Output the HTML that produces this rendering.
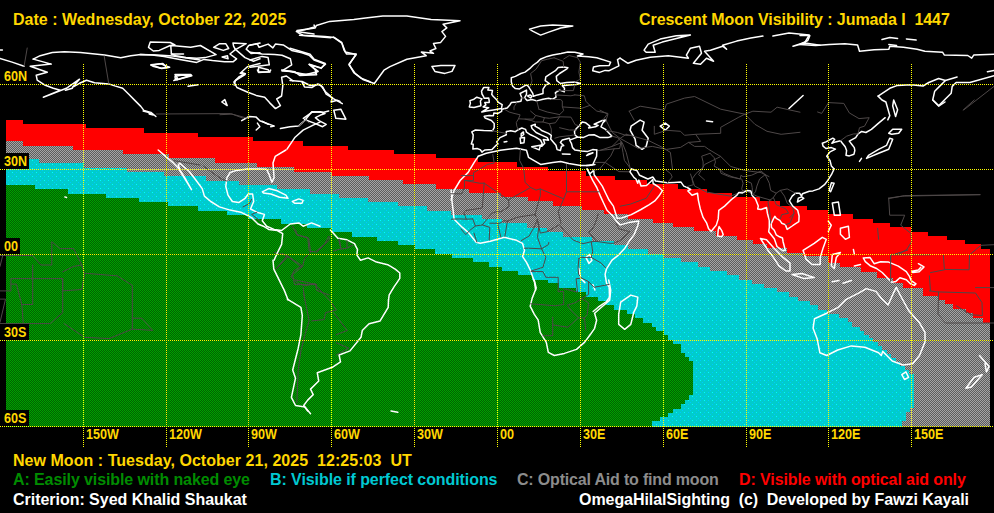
<!DOCTYPE html>
<html><head><meta charset="utf-8"><style>
html,body{margin:0;padding:0;background:#000;}
body{width:994px;height:513px;overflow:hidden;position:relative;font-family:"Liberation Sans",sans-serif;}
.t{position:absolute;font-weight:bold;font-size:16px;line-height:19px;white-space:pre;}
.lb{position:absolute;background:#000;}
.lb span{position:absolute;font-weight:bold;font-size:14px;line-height:15px;color:#ffd700;white-space:pre;transform:scaleX(0.9);transform-origin:0 0;}
.ll{position:absolute;font-weight:bold;font-size:14px;line-height:15px;color:#ffd700;white-space:pre;transform:scaleX(0.9);transform-origin:0 0;}
</style></head><body>
<svg width="994" height="513" viewBox="0 0 994 513" style="position:absolute;left:0;top:0" shape-rendering="crispEdges">
<defs>
<pattern id="pg" width="2" height="2" patternUnits="userSpaceOnUse"><rect width="2" height="2" fill="#5c5c5c"/><rect width="1" height="1" fill="#a4a4a4"/><rect x="1" y="1" width="1" height="1" fill="#a4a4a4"/></pattern>
<pattern id="pgr" width="2" height="2" patternUnits="userSpaceOnUse"><rect width="2" height="2" fill="#006400"/><rect width="1" height="1" fill="#00a000"/><rect x="1" y="1" width="1" height="1" fill="#00a000"/></pattern>
<pattern id="pc" width="8" height="8" patternUnits="userSpaceOnUse"><rect width="8" height="8" fill="#00cccc"/><rect x="0" y="0" width="1" height="1" fill="#00ffff"/><rect x="4" y="0" width="1" height="1" fill="#00c8ff"/><rect x="2" y="2" width="1" height="1" fill="#00c8ff"/><rect x="4" y="4" width="1" height="1" fill="#00ffff"/><rect x="0" y="4" width="1" height="1" fill="#00c8ff"/><rect x="6" y="6" width="1" height="1" fill="#00c8ff"/></pattern>
</defs>
<polygon points="6.0,120.0 23.0,120.0 23.0,124.0 86.0,124.0 86.0,128.0 144.0,128.0 144.0,133.0 198.0,133.0 198.0,137.0 253.0,137.0 253.0,141.0 303.0,141.0 303.0,146.0 348.0,146.0 348.0,150.0 394.0,150.0 394.0,154.0 436.0,154.0 436.0,158.0 478.0,158.0 478.0,162.3 516.5,162.3 516.5,166.7 548.0,166.7 548.0,170.5 586.0,170.5 586.0,176.0 615.0,176.0 615.0,180.0 647.0,180.0 647.0,184.0 678.0,184.0 678.0,189.0 707.0,189.0 707.0,193.0 732.0,193.0 732.0,197.0 760.4,197.0 760.4,201.0 780.0,201.0 780.0,205.5 807.2,205.5 807.2,209.8 828.0,209.8 828.0,214.0 852.7,214.0 852.7,218.7 873.0,218.7 873.0,222.7 889.5,222.7 889.5,227.0 911.3,227.0 911.3,231.8 928.3,231.8 928.3,236.0 947.0,236.0 947.0,240.0 965.0,240.0 965.0,244.0 981.0,244.0 981.0,248.5 990.0,248.5 990.0,426.5 6.0,426.5" fill="#ff0000"/>
<polygon points="6.0,141.0 23.0,141.0 23.0,146.0 73.0,146.0 73.0,150.0 123.0,150.0 123.0,154.0 169.0,154.0 169.0,158.0 215.0,158.0 215.0,163.0 257.0,163.0 257.0,167.2 294.0,167.2 294.0,171.5 331.6,171.5 331.6,176.0 368.8,176.0 368.8,179.8 403.0,179.8 403.0,183.8 436.0,183.8 436.0,188.5 469.0,188.5 469.0,193.0 500.7,193.0 500.7,197.4 528.0,197.4 528.0,201.3 553.4,201.3 553.4,205.8 581.6,205.8 581.6,210.0 604.0,210.0 604.0,214.0 627.8,214.0 627.8,218.9 653.0,218.9 653.0,223.0 673.0,223.0 673.0,227.3 694.4,227.3 694.4,231.4 715.5,231.4 715.5,235.8 736.5,235.8 736.5,239.7 753.2,239.7 753.2,243.5 767.0,243.5 767.0,248.0 786.6,248.0 786.6,252.5 803.2,252.5 803.2,256.4 828.1,256.4 828.1,262.6 840.4,262.6 840.4,267.0 860.6,267.0 860.6,272.2 877.2,272.2 877.2,277.5 893.0,277.5 893.0,283.4 902.7,283.4 902.7,288.0 922.9,288.0 922.9,296.0 938.8,296.0 938.8,299.8 944.5,299.8 944.5,303.6 953.3,303.6 953.3,308.7 966.0,308.7 966.0,312.5 973.0,312.5 973.0,317.6 982.5,317.6 982.5,322.6 990.0,322.6 990.0,426.5 6.0,426.5" fill="url(#pg)"/>
<polygon points="6.0,159.0 39.0,159.0 39.0,163.0 84.3,163.0 84.3,168.0 127.0,168.0 127.0,172.3 164.2,172.3 164.2,176.2 206.0,176.2 206.0,180.6 239.0,180.6 239.0,184.8 276.9,184.8 276.9,189.3 310.2,189.3 310.2,193.6 339.2,193.6 339.2,197.8 368.0,197.8 368.0,201.8 397.7,201.8 397.7,206.0 427.0,206.0 427.0,211.0 451.4,211.0 451.4,215.1 481.6,215.1 481.6,218.9 501.7,218.9 501.7,223.3 526.9,223.3 526.9,227.7 547.0,227.7 547.0,232.0 562.8,232.0 562.8,236.9 591.8,236.9 591.8,241.3 613.7,241.3 613.7,245.2 627.8,245.2 627.8,249.2 648.0,249.2 648.0,254.0 663.8,254.0 663.8,257.8 681.0,257.8 681.0,262.2 698.0,262.2 698.0,266.6 710.3,266.6 710.3,271.0 727.0,271.0 727.0,275.4 739.3,275.4 739.3,279.8 751.9,279.8 751.9,284.2 764.2,284.2 764.2,287.9 776.7,287.9 776.7,292.0 789.0,292.0 789.0,296.6 797.7,296.6 797.7,300.7 810.0,300.7 810.0,304.8 818.2,304.8 818.2,309.5 827.0,309.5 827.0,313.6 838.7,313.6 838.7,317.7 847.5,317.7 847.5,322.4 851.5,322.4 851.5,326.5 859.7,326.5 859.7,330.6 859.7,330.6 864.2,330.6 864.2,334.5 864.2,334.5 868.7,334.5 868.7,338.4 868.7,338.4 873.2,338.4 873.2,342.3 873.2,342.3 877.7,342.3 877.7,346.2 877.7,346.2 882.2,346.2 882.2,350.1 882.2,350.1 886.7,350.1 886.7,354.0 886.7,354.1 891.1,354.1 891.1,358.0 891.1,358.0 895.6,358.0 895.6,361.9 895.6,361.9 900.1,361.9 900.1,365.8 900.1,365.8 904.6,365.8 904.6,369.7 904.6,369.7 909.1,369.7 909.1,373.6 909.1,373.6 913.6,373.6 913.6,377.5 913.6,408.0 910.2,408.0 910.2,412.2 906.1,412.2 906.1,420.9 902.2,420.9 902.2,426.5 6.0,426.5" fill="url(#pc)"/>
<polygon points="6.0,185.0 35.1,185.0 35.1,189.0 68.1,189.0 68.1,194.0 106.2,194.0 106.2,198.0 139.0,198.0 139.0,202.0 167.8,202.0 167.8,206.0 197.7,206.0 197.7,210.7 227.3,210.7 227.3,214.8 248.0,214.8 248.0,218.9 281.3,218.9 281.3,223.7 306.5,223.7 306.5,228.0 331.6,228.0 331.6,232.1 352.4,232.1 352.4,237.1 376.9,237.1 376.9,241.0 397.9,241.0 397.9,244.9 414.6,244.9 414.6,248.9 435.1,248.9 435.1,253.9 452.4,253.9 452.4,257.9 473.1,257.9 473.1,262.1 489.1,262.1 489.1,267.0 502.0,267.0 502.0,270.8 517.7,270.8 517.7,274.9 532.2,274.9 532.2,280.0 547.9,280.0 547.9,283.4 559.2,283.4 559.2,287.8 576.2,287.8 576.2,292.2 585.6,292.2 585.6,296.6 597.5,296.6 597.5,301.1 606.3,301.1 606.3,305.1 613.9,305.1 613.9,309.5 627.1,309.5 627.1,313.7 634.6,313.7 634.6,318.0 642.8,318.0 642.8,322.7 651.6,322.7 651.6,326.5 656.0,326.5 656.0,330.9 664.2,330.9 664.2,335.0 668.0,335.0 668.0,339.7 673.0,339.7 673.0,343.9 681.1,343.9 681.1,352.6 685.0,352.6 685.0,356.9 689.1,356.9 689.1,360.9 693.1,360.9 693.1,395.2 689.1,395.2 689.1,399.8 685.0,399.8 685.0,403.9 681.1,403.9 681.1,409.0 673.0,409.0 673.0,412.8 667.8,412.8 667.8,416.9 660.0,416.9 660.0,421.1 652.0,421.1 652.0,426.5 6.0,426.5" fill="url(#pgr)"/>
</svg>
<svg width="994" height="513" viewBox="0 0 994 513" style="position:absolute;left:0;top:0" fill="none" stroke-linejoin="round" stroke-linecap="round"><polyline points="0.0,58.5 12.1,62.1 24.1,66.2" stroke="#ffffff" stroke-width="1.5"/>
<polyline points="0.0,50.1 2.4,50.1" stroke="#ffffff" stroke-width="1.5"/>
<polyline points="27.2,48.0 24.1,66.2" stroke="#4e4848" stroke-width="1"/>
<polyline points="33.2,59.1 40.2,55.7 52.3,52.5 64.4,51.7 80.5,52.5 104.6,55.1 120.7,57.7 130.8,55.7 140.8,54.5 156.9,55.1 173.0,56.1 185.1,57.7 200.0,60.1" stroke="#ffffff" stroke-width="1.5"/>
<polyline points="33.2,59.1 51.3,64.1 30.2,66.2 47.3,72.2 36.2,75.2 37.2,80.2 45.3,85.3 53.3,88.3 60.4,90.3 43.3,97.3 66.4,88.3 79.5,79.2 72.4,87.3 79.5,83.3 86.5,80.2 94.6,82.7 108.7,83.9 114.7,85.9 122.7,88.3 128.8,94.3 134.8,100.4 140.8,106.4 143.9,110.4 150.9,112.4 155.9,116.5" stroke="#ffffff" stroke-width="1.5"/>
<polyline points="65.4,90.3 72.4,88.3" stroke="#ffffff" stroke-width="1.5"/>
<polyline points="104.2,56.1 108.7,83.3" stroke="#4e4848" stroke-width="1"/>
<polygon points="150.9,65.2 161.0,63.7 169.0,67.2 161.0,68.2 152.9,66.2" stroke="#ffffff" stroke-width="1.5"/>
<polygon points="175.1,76.2 181.1,75.2 191.1,75.2 177.1,79.8 175.1,78.2" stroke="#ffffff" stroke-width="1.5"/>
<polyline points="188.1,86.3 198.2,84.7" stroke="#ffffff" stroke-width="1.5"/>
<polygon points="431.9,66.4 440.9,65.4 455.0,65.4 452.0,71.4 444.9,73.4 434.9,71.4" stroke="#ffffff" stroke-width="1.5"/>
<polyline points="290.0,48.3 300.1,51.3 310.1,54.3 314.1,59.3 325.2,63.4 321.2,68.4 309.1,64.4 318.2,71.4 306.1,74.4 290.0,71.4" stroke="#ffffff" stroke-width="1.5"/>
<polyline points="290.0,80.5 302.1,81.5 310.1,85.5 320.2,84.5 325.2,91.5 333.3,98.6 342.3,103.6" stroke="#ffffff" stroke-width="1.5"/>
<polygon points="333.8,110.2 340.8,109.2 345.9,119.2 335.8,118.2" stroke="#ffffff" stroke-width="1.5"/>
<polygon points="529.5,29.1 540.6,26.0 552.7,25.0 572.8,26.0 560.7,28.0 548.7,32.1 540.6,35.1 532.6,31.1" stroke="#ffffff" stroke-width="1.5"/>
<polygon points="644.1,50.2 648.2,44.1 660.2,39.1 676.3,35.7 690.4,35.1 678.4,38.1 662.3,42.1 653.2,45.2 655.2,52.2 646.2,52.2" stroke="#ffffff" stroke-width="1.5"/>
<polyline points="620.0,58.2 628.0,63.3 636.1,60.2 650.2,57.2 668.3,55.8 680.4,57.2 688.4,58.2 686.4,55.2 690.4,48.2 699.5,46.2 701.5,53.2 693.4,63.3 700.5,64.3 706.5,58.2 713.6,61.2 704.5,51.2 710.5,50.2 722.6,46.2 726.6,49.2 722.6,45.2 736.7,41.1 750.8,38.1 762.9,36.1" stroke="#ffffff" stroke-width="1.5"/>
<polyline points="772.9,36.1 789.0,33.1 809.1,35.1 805.1,42.1 793.0,46.2 805.1,43.1 820.0,45.2" stroke="#ffffff" stroke-width="1.5"/>
<polyline points="789.0,108.5 803.1,95.5" stroke="#ffffff" stroke-width="1.5"/>
<polyline points="800.0,44.4 815.6,45.4 829.3,44.4 844.9,43.8 857.6,45.0 859.5,51.2 874.2,49.7 888.8,49.3 889.8,46.3 903.4,47.3 917.1,49.3 924.9,51.2 942.5,52.2 944.4,55.1 967.8,55.5 971.7,58.1 973.7,55.1 994.0,54.2" stroke="#ffffff" stroke-width="1.5"/>
<polyline points="800.0,35.6 809.8,35.6 807.8,40.5 800.0,44.4" stroke="#ffffff" stroke-width="1.5"/>
<polyline points="882.0,39.5 889.8,37.6 897.6,38.5" stroke="#ffffff" stroke-width="1.5"/>
<polyline points="906.4,38.9 916.1,40.1" stroke="#ffffff" stroke-width="1.5"/>
<polyline points="888.8,44.4 896.6,45.4" stroke="#ffffff" stroke-width="1.5"/>
<polyline points="878.1,96.1 889.8,88.3 897.6,85.4 911.2,84.8 923.0,86.0 928.8,82.5 938.6,78.5 945.4,80.5 957.1,77.0" stroke="#ffffff" stroke-width="1.5"/>
<polyline points="945.4,80.5 940.5,85.4 934.7,91.2 932.7,100.0 938.6,105.9 945.4,99.0 951.2,93.2 952.2,86.4 956.1,82.5 969.8,82.5 994.0,75.6" stroke="#ffffff" stroke-width="1.5"/>
<polyline points="878.1,96.1 882.0,100.0 885.9,102.0 889.8,115.6 887.8,119.9" stroke="#ffffff" stroke-width="1.5"/>
<polygon points="893.7,100.0 897.6,109.8 895.6,116.6 892.7,105.9" stroke="#ffffff" stroke-width="1.5"/>
<polyline points="963.9,109.8 994.0,86.4" stroke="#4e4848" stroke-width="1"/>
<polyline points="987.4,71.7 994.0,70.4" stroke="#ffffff" stroke-width="1.5"/>
<polyline points="143.1,111.0 148.2,112.4 153.2,115.0 149.2,114.0" stroke="#ffffff" stroke-width="1.5"/>
<polyline points="287.0,149.2 295.1,137.2 303.1,130.1 313.2,125.1 320.0,122.1" stroke="#ffffff" stroke-width="1.5"/>
<polyline points="156.2,114.0 230.7,113.6 242.7,118.0" stroke="#4e4848" stroke-width="1"/>
<polyline points="292.6,226.2 296.6,234.3 308.7,238.3 310.7,252.4 304.6,258.4 302.6,266.5 292.6,274.5 294.6,284.6 316.7,284.6" stroke="#4e4848" stroke-width="1"/>
<polyline points="328.8,236.3 324.7,244.3 316.7,252.4" stroke="#4e4848" stroke-width="1"/>
<polyline points="338.8,240.3 340.8,248.4" stroke="#4e4848" stroke-width="1"/>
<polyline points="274.4,252.4 286.5,255.4 300.6,266.5" stroke="#4e4848" stroke-width="1"/>
<polyline points="276.5,268.5 286.5,256.4" stroke="#4e4848" stroke-width="1"/>
<polyline points="287.3,299.1 300.9,307.3 302.3,315.5 300.9,334.6 298.2,348.2 292.7,370.0 295.5,378.2 291.4,397.3 295.5,405.5 305.0,406.9 310.5,413.7" stroke="#ffffff" stroke-width="1.5"/>
<polyline points="388.5,299.9 388.2,307.3 380.1,320.9 369.1,323.7 362.3,330.5 361.0,337.3 350.0,350.9 339.1,355.0 340.5,361.9 332.3,367.3 317.3,372.8 318.7,381.0 310.5,389.1 313.2,394.6 307.7,400.1 303.7,405.5 307.7,411.0" stroke="#ffffff" stroke-width="1.5"/>
<polyline points="303.7,293.6 309.1,320.9 305.0,334.6 300.9,350.9 298.2,370.0 296.8,402.8" stroke="#4e4848" stroke-width="1"/>
<polyline points="295.5,280.0 314.6,284.1 330.9,301.8 336.4,310.0 325.5,312.7 324.1,319.6 311.8,320.9" stroke="#4e4848" stroke-width="1"/>
<polyline points="333.7,312.7 347.3,330.5 336.4,334.6" stroke="#4e4848" stroke-width="1"/>
<polyline points="336.4,342.8 348.7,348.2 336.4,355.0" stroke="#4e4848" stroke-width="1"/>
<polyline points="391.0,411.0 397.8,412.3" stroke="#ffffff" stroke-width="1.5"/>
<polyline points="273.0,260.2 273.8,269.2 279.1,279.8 284.3,290.4 288.1,300.0" stroke="#ffffff" stroke-width="1.5"/>
<polyline points="330.4,230.0 337.9,238.3 347.0,239.8 354.5,243.6 357.5,249.6 356.8,254.9 360.5,260.2 368.1,257.9 375.6,261.7 387.7,264.7 395.2,269.2 399.8,273.0 399.8,278.3 393.7,287.3 389.2,294.9 388.5,300.0" stroke="#ffffff" stroke-width="1.5"/>
<polyline points="295.7,230.0 297.2,235.3 307.7,237.5 309.2,251.1 315.3,251.9 328.9,240.6 330.4,236.0" stroke="#4e4848" stroke-width="1"/>
<polyline points="333.4,251.1 337.9,249.6 347.0,248.1 353.0,245.1" stroke="#4e4848" stroke-width="1"/>
<polyline points="339.4,239.1 340.9,248.1" stroke="#4e4848" stroke-width="1"/>
<polyline points="347.0,240.6 347.0,247.4" stroke="#4e4848" stroke-width="1"/>
<polyline points="282.1,253.4 288.1,256.4 301.7,265.5" stroke="#4e4848" stroke-width="1"/>
<polyline points="288.1,256.4 276.0,269.2" stroke="#4e4848" stroke-width="1"/>
<polyline points="301.7,266.2 294.1,270.7 291.1,276.8 297.2,282.8 304.7,285.8 315.3,283.6 316.8,290.4 328.9,294.9" stroke="#4e4848" stroke-width="1"/>
<polyline points="303.2,287.3 304.7,300.0" stroke="#4e4848" stroke-width="1"/>
<polyline points="478.2,156.3 486.3,153.3 500.4,150.3 516.5,148.3 526.5,150.3 528.5,157.3 540.6,164.4 552.7,162.4 560.7,161.4 568.8,163.4 580.8,165.4 588.9,165.4 594.9,164.4" stroke="#ffffff" stroke-width="1.5"/>
<polyline points="478.2,156.3 474.2,162.4 468.2,172.4 460.1,180.5 454.1,190.5 451.1,200.0" stroke="#ffffff" stroke-width="1.5"/>
<polyline points="451.1,190.0 452.1,202.1 453.1,210.1 454.1,219.2 462.1,227.2 468.2,232.3 476.2,242.3 480.2,243.3 490.3,241.3 504.4,237.3 516.5,240.3 522.5,243.3 524.5,250.4 522.5,256.4 526.5,262.4 530.5,270.5 534.6,282.6 535.6,290.0" stroke="#ffffff" stroke-width="1.5"/>
<polygon points="585.9,257.4 589.9,254.4 591.9,260.4 588.9,263.4" stroke="#ffffff" stroke-width="1.5"/>
<polyline points="578.8,268.5 580.8,278.5 584.9,282.6" stroke="#ffffff" stroke-width="1.5"/>
<polyline points="592.9,284.6 594.9,290.0" stroke="#ffffff" stroke-width="1.5"/>
<polyline points="534.2,280.0 536.2,288.0 532.2,298.1 530.2,306.2 534.2,314.2 538.2,320.2 540.2,332.3 546.3,342.4 548.3,352.4 554.3,355.5 564.4,353.4 576.5,349.4 584.5,342.4 590.5,334.3 594.6,328.3 596.6,320.2 594.6,313.2 602.6,306.2 609.7,300.1 610.7,290.1 608.7,280.0" stroke="#ffffff" stroke-width="1.5"/>
<polygon points="620.7,302.1 630.8,295.1 637.8,297.1 636.8,306.2 633.8,312.2 630.8,324.3 624.7,329.3 618.7,324.3 618.7,314.2" stroke="#ffffff" stroke-width="1.5"/>
<polygon points="631.1,126.2 640.1,120.1 644.1,122.1 642.1,130.2 648.2,138.2 646.2,146.3 642.1,149.3 636.1,145.3 635.1,139.2 630.1,130.2" stroke="#ffffff" stroke-width="1.5"/>
<polygon points="660.2,126.2 665.3,123.1 669.3,126.2 665.3,130.2" stroke="#ffffff" stroke-width="1.5"/>
<polyline points="706.5,121.1 712.6,121.7" stroke="#ffffff" stroke-width="1.5"/>
<polyline points="690.5,174.0 694.6,186.1 706.6,192.1 730.8,196.2 744.9,190.1 756.9,196.2 771.0,200.2" stroke="#4e4848" stroke-width="1"/>
<polyline points="620.1,206.2 630.2,204.2 646.3,198.2 654.3,186.1" stroke="#4e4848" stroke-width="1"/>
<polygon points="866.5,158.4 878.6,153.3 888.7,149.3 892.7,139.2 889.7,138.2 886.6,145.3 878.6,149.3 868.5,155.3" stroke="#ffffff" stroke-width="1.5"/>
<polygon points="888.7,133.2 892.7,129.2 901.7,129.2 898.7,133.2 891.7,134.2" stroke="#ffffff" stroke-width="1.5"/>
<polyline points="859.5,161.4 861.5,158.4" stroke="#ffffff" stroke-width="1.5"/>
<polyline points="932.9,100.0 939.0,106.0 945.0,102.0" stroke="#ffffff" stroke-width="1.5"/>
<polyline points="963.1,110.1 974.2,100.0" stroke="#4e4848" stroke-width="1"/>
<polyline points="888.7,198.6 904.7,195.6 980.0,194.6" stroke="#4e4848" stroke-width="1"/>
<polygon points="803.1,250.4 814.2,243.4 822.3,237.3 826.3,239.3 823.3,247.4 820.2,257.4 820.2,264.5 812.2,264.5 806.2,259.4" stroke="#ffffff" stroke-width="1.5"/>
<polygon points="792.1,274.5 802.1,273.5 814.2,277.6 804.1,278.6" stroke="#ffffff" stroke-width="1.5"/>
<polygon points="832.3,203.1 838.4,202.1 840.4,215.2 834.3,215.2" stroke="#ffffff" stroke-width="1.5"/>
<polygon points="840.4,228.3 848.4,226.2 849.4,237.3 845.4,239.3 840.4,234.3" stroke="#ffffff" stroke-width="1.5"/>
<polyline points="828.3,221.2 831.3,225.2 828.3,231.3" stroke="#ffffff" stroke-width="1.5"/>
<polygon points="832.3,254.4 840.4,252.4 836.3,257.4 834.3,268.5 831.3,265.5" stroke="#ffffff" stroke-width="1.5"/>
<polyline points="853.4,249.4 854.4,254.4" stroke="#ffffff" stroke-width="1.5"/>
<polyline points="888.7,198.1 902.7,196.1 980.0,194.7" stroke="#4e4848" stroke-width="1"/>
<polyline points="888.7,198.1 889.7,215.2 904.7,215.2 900.7,225.2 910.8,233.3 911.8,241.3 906.8,249.4 898.7,254.4 890.7,254.4 890.7,269.5" stroke="#4e4848" stroke-width="1"/>
<polyline points="877.6,228.3 878.6,239.3" stroke="#4e4848" stroke-width="1"/>
<polygon points="814.5,318.7 826.7,313.2 837.7,307.7 845.8,299.6 859.5,292.7 866.3,288.6 875.9,291.4 881.3,298.2 888.1,305.0 893.6,292.7 896.3,287.3 900.4,295.5 908.6,310.5 919.5,322.8 925.0,332.3 925.0,341.9 919.5,355.5 912.7,363.7 903.1,365.0 892.2,361.0 886.8,355.5 882.7,351.4 881.3,355.5 878.6,352.8 864.9,347.3 851.3,345.9 837.7,350.0 826.7,355.5 819.9,352.8 817.2,339.1 813.1,328.2" stroke="#ffffff" stroke-width="1.5"/>
<polygon points="901.8,374.6 905.9,371.9 908.6,377.3 904.5,379.5" stroke="#ffffff" stroke-width="1.5"/>
<polyline points="979.5,355.5 989.1,366.4 986.4,371.9 985.0,363.7" stroke="#ffffff" stroke-width="1.5"/>
<polygon points="965.9,388.2 974.1,377.3 982.3,374.6 971.4,386.9" stroke="#ffffff" stroke-width="1.5"/>
<polyline points="832.2,281.8 839.0,280.5" stroke="#ffffff" stroke-width="1.5"/>
<polyline points="843.1,283.2 851.3,280.5" stroke="#ffffff" stroke-width="1.5"/>
<polyline points="587.2,169.0 589.9,174.7 592.7,180.4 596.8,187.5 600.4,196.1 603.7,203.2 607.0,210.3 612.0,215.2 616.7,221.4 620.3,224.9 628.6,222.6 638.8,220.9 637.7,226.0 634.1,234.6 629.9,240.2 624.4,248.8 617.5,255.9 612.0,260.2 606.5,268.8 605.1,274.4 606.5,283.0 609.2,287.3 609.5,297.2 606.5,301.5 598.2,307.2 593.2,311.5" stroke="#ffffff" stroke-width="1.5"/>
<polyline points="586.6,165.6 592.7,164.7 596.6,156.2 596.8,149.9" stroke="#ffffff" stroke-width="1.5"/>
<polyline points="587.2,169.0 589.9,173.8 593.8,170.4 594.1,174.7 598.2,180.4 602.3,186.1 605.7,193.2 609.2,200.3 613.4,206.1 615.6,213.2 617.2,218.3 621.7,218.0 631.3,214.6 641.0,209.5 649.3,204.6 654.8,200.9 658.9,196.1 662.5,190.7 658.9,187.2 653.1,183.5 652.8,179.5 650.6,181.8 646.5,185.5 641.0,186.1 639.9,182.7 638.8,180.1 637.7,183.2 636.0,179.0 634.1,177.6 629.9,171.8 631.3,169.0" stroke="#ffffff" stroke-width="1.5"/>
<polyline points="631.3,169.0 636.8,170.4 639.6,175.3 647.9,179.0 652.8,177.0 655.6,181.0 667.2,182.7 674.1,182.4 681.0,182.1 683.8,186.1 687.3,187.5 690.6,189.5 687.9,190.9 692.0,195.2 697.5,193.2 698.4,200.3 700.3,208.9 703.1,217.4 706.7,223.2 708.6,228.8 711.3,231.4 713.3,228.8 716.3,225.1 718.2,218.9 718.8,210.3 724.6,206.1 731.5,199.5 737.0,195.2 738.9,192.4 742.5,192.9 747.2,190.4 750.8,190.9 752.2,195.5 755.5,198.9 758.3,206.1 757.7,208.9 761.0,209.5 766.5,207.5 767.4,213.2 769.3,220.3 769.3,227.4 768.7,231.7 774.3,238.8 777.0,246.5 783.1,250.8 785.3,250.2 783.1,241.7 782.5,238.0 779.5,236.8 776.2,234.8 774.3,230.3 771.5,227.4 771.2,223.7 773.4,218.9 774.8,216.3 776.2,218.3 779.8,220.3 781.7,223.2 785.3,224.6 787.2,229.4 792.2,226.0 794.1,224.6 798.8,221.7 799.1,216.0 797.7,210.3 792.7,206.1 789.4,200.9 792.2,196.1 795.5,193.2 799.6,193.2 801.6,196.1 802.4,193.8 809.3,191.2 812.9,190.9 819.0,188.9 824.5,184.7 827.8,180.4 831.4,174.7 834.1,169.0" stroke="#ffffff" stroke-width="1.5"/>
<polygon points="717.7,236.0 718.2,230.3 719.1,226.6 721.6,230.3 723.2,234.6 721.6,236.8" stroke="#ffffff" stroke-width="1.5"/>
<polygon points="760.5,238.5 766.5,239.7 773.4,247.4 783.1,257.4 790.0,263.1 790.0,271.0 785.8,271.0 779.0,265.9 773.4,257.4 767.9,250.2 760.5,238.5" stroke="#ffffff" stroke-width="1.5"/>
<polyline points="482.0,151.9 480.1,149.6 477.1,148.5 472.9,149.1 473.2,144.2 471.3,143.9 472.9,139.1 473.2,134.8 471.8,131.9 475.4,130.0 483.7,130.5 492.5,130.8 494.2,127.7 494.2,123.4 491.4,120.5 485.1,118.0 484.2,116.3 489.2,115.4 493.4,115.7 493.9,112.9 498.0,113.4 501.6,111.4 501.9,109.2 507.1,108.0 509.9,104.9 511.3,102.6 516.8,102.0 520.9,101.2 521.8,97.8 520.1,93.5 526.5,90.1 526.5,94.3 524.5,97.8 527.3,100.6 532.0,99.5 536.7,100.9 543.0,99.2 548.5,98.3 552.7,99.2 556.0,97.2 555.4,92.6 559.6,90.1 564.3,91.8 564.5,88.3 562.3,85.8 569.2,84.9 576.1,84.4 580.3,83.5 576.1,82.1 566.5,82.6 560.4,83.5 556.8,80.7 556.3,76.4 559.6,73.5 566.5,69.2 567.9,67.8 563.7,67.0 558.2,67.5 555.4,70.7 549.9,74.1 545.8,76.9 545.2,80.7 549.4,83.5 545.8,84.9 543.0,89.2 543.0,93.5 537.5,94.9 533.4,96.3 532.8,93.5 530.1,89.2 528.4,86.3 526.5,84.9 523.7,86.3 519.6,88.9 515.4,88.6 512.7,86.3 511.3,82.1 511.3,77.8 515.4,76.4 520.9,73.5 525.1,72.1 530.6,67.8 533.4,65.0 537.5,62.1 540.3,59.3 547.2,56.4 552.7,55.0 561.0,53.6 567.9,51.9 574.8,52.2 583.0,54.1 577.5,55.9 588.6,56.7 596.8,57.8 610.6,62.1 609.2,65.5 599.6,65.8 593.5,67.0 592.7,70.7 599.6,72.4 605.1,70.4 609.2,70.7 618.9,65.8 617.5,59.6 620.0,58.1" stroke="#ffffff" stroke-width="1.5"/>
<polygon points="532.0,96.3 530.1,94.9 527.6,96.0 530.6,98.0" stroke="#ffffff" stroke-width="1.5"/>
<polyline points="482.0,151.9 485.1,149.9 492.0,149.6 496.1,145.3 498.0,143.9 496.7,141.9 500.0,137.6 506.3,134.8 506.3,131.4 510.7,130.8 515.4,131.7 518.2,129.7 521.8,128.0 525.6,129.4 526.5,132.2 530.6,134.8 535.6,137.1 540.5,140.2 542.2,143.6 540.8,146.2 541.9,146.2 544.7,143.3 543.3,139.6 548.5,140.2 547.2,137.6 541.6,135.1 536.1,132.5 532.0,128.5 531.2,125.7 535.3,124.3 535.0,126.2 539.4,128.5 541.6,130.5 548.5,133.4 551.3,135.4 550.7,139.1 553.2,141.9 556.0,145.3 557.1,149.6 560.4,150.5 561.5,146.2 563.7,145.6 560.4,142.5 562.3,139.9 569.2,138.2 570.3,139.9 577.5,137.1" stroke="#ffffff" stroke-width="1.5"/>
<polyline points="569.8,140.5 571.4,143.3 572.5,147.6 574.8,149.9 581.7,151.0 587.2,151.6 592.7,149.6 596.8,149.9" stroke="#ffffff" stroke-width="1.5"/>
<polyline points="577.5,137.1 574.8,134.8 574.5,131.4 576.4,128.5 579.2,125.7 582.2,122.0 585.8,122.8 589.9,126.2 588.6,128.0 595.5,126.8 598.2,125.4 594.1,124.3 602.3,120.5 605.9,120.0 602.9,122.8 601.0,126.8 605.1,129.1 612.0,136.2 607.9,137.6 599.6,137.4 594.1,134.8 588.6,135.1 583.6,137.4 577.5,137.1" stroke="#ffffff" stroke-width="1.5"/>
<polygon points="531.7,146.8 540.5,145.3 539.2,149.9" stroke="#ffffff" stroke-width="1.5"/>
<polygon points="520.7,143.3 524.0,142.8 524.5,137.6 520.1,137.9" stroke="#ffffff" stroke-width="1.5"/>
<polygon points="521.2,136.5 523.7,134.5 523.4,131.9 521.2,133.7" stroke="#ffffff" stroke-width="1.5"/>
<polyline points="562.3,153.9 570.1,154.2" stroke="#ffffff" stroke-width="1.5"/>
<polygon points="586.6,155.6 593.0,152.8 588.6,153.9" stroke="#ffffff" stroke-width="1.5"/>
<polyline points="504.1,141.9 506.9,141.4" stroke="#ffffff" stroke-width="1.5"/>
<polygon points="481.8,112.0 486.5,111.1 493.4,110.0 501.4,108.6 502.2,104.6 498.3,102.3 496.9,100.0 493.1,96.3 491.7,94.3 492.5,90.6 487.8,90.1 488.9,87.5 483.7,87.5 481.5,91.2 482.0,94.0 483.7,96.9 484.2,98.3 488.7,98.0 489.2,100.9 489.2,102.6 484.8,102.6 485.9,104.9 483.1,106.9 488.7,107.7" stroke="#ffffff" stroke-width="1.5"/>
<polygon points="480.9,105.7 480.4,100.9 482.0,98.9 476.8,97.2 474.0,99.2 469.9,100.6 470.4,103.4 469.3,106.9 474.0,107.4" stroke="#ffffff" stroke-width="1.5"/>
<polyline points="492.5,130.8 506.3,133.4" stroke="#4e4848" stroke-width="1"/>
<polyline points="504.4,109.2 509.1,112.0 514.0,113.4 520.1,114.8 518.5,118.8 516.3,122.5 516.8,126.2 518.2,129.7" stroke="#4e4848" stroke-width="1"/>
<polyline points="536.7,100.9 537.8,104.9 538.9,109.2" stroke="#4e4848" stroke-width="1"/>
<polyline points="530.6,111.1 535.6,115.4 533.4,119.1 525.1,119.1 518.5,118.8" stroke="#4e4848" stroke-width="1"/>
<polyline points="521.5,98.0 524.8,98.3" stroke="#4e4848" stroke-width="1"/>
<polyline points="516.8,102.6 514.0,106.9 514.0,109.7" stroke="#4e4848" stroke-width="1"/>
<polyline points="538.9,109.2 547.2,112.0 559.6,114.6" stroke="#4e4848" stroke-width="1"/>
<polyline points="559.6,114.6 563.7,110.6 562.3,106.3 562.3,100.9 560.4,99.5 551.3,99.5" stroke="#4e4848" stroke-width="1"/>
<polyline points="535.6,115.4 544.4,117.7 543.0,122.0 535.3,122.0 531.2,120.5 525.1,119.1" stroke="#4e4848" stroke-width="1"/>
<polyline points="544.4,117.7 549.4,118.3 559.6,116.8 555.4,122.8 549.4,123.7 543.0,122.0" stroke="#4e4848" stroke-width="1"/>
<polyline points="559.6,116.8 570.9,117.1 575.3,124.8 579.2,125.7" stroke="#4e4848" stroke-width="1"/>
<polyline points="559.6,127.7 569.2,130.0 576.4,130.0" stroke="#4e4848" stroke-width="1"/>
<polyline points="549.4,123.7 551.3,129.1 551.3,133.4" stroke="#4e4848" stroke-width="1"/>
<polyline points="554.9,138.2 559.6,136.8 569.2,135.7 574.8,134.8" stroke="#4e4848" stroke-width="1"/>
<polyline points="589.9,105.4 596.8,111.1 607.9,113.4 602.9,120.0" stroke="#4e4848" stroke-width="1"/>
<polyline points="574.8,94.9 584.4,95.8 585.8,101.2 589.9,105.4" stroke="#4e4848" stroke-width="1"/>
<polyline points="562.3,106.9 581.7,108.3 589.9,105.4" stroke="#4e4848" stroke-width="1"/>
<polyline points="555.4,94.9 570.9,95.8 574.8,94.9" stroke="#4e4848" stroke-width="1"/>
<polyline points="556.8,90.6 573.4,90.6 574.8,84.9" stroke="#4e4848" stroke-width="1"/>
<polyline points="574.8,82.1 580.3,79.2 578.9,72.1 580.3,62.1 577.5,57.6" stroke="#4e4848" stroke-width="1"/>
<polyline points="530.6,86.3 532.0,80.7 530.6,73.5 536.1,69.2 541.6,60.7 547.2,59.3 554.1,57.8" stroke="#4e4848" stroke-width="1"/>
<polyline points="563.7,67.0 563.2,61.3 554.1,57.8" stroke="#4e4848" stroke-width="1"/>
<polyline points="563.7,59.0 569.2,55.6 577.5,57.6" stroke="#4e4848" stroke-width="1"/>
<polyline points="612.0,136.2 617.5,137.6 621.1,141.4 619.7,148.5 614.2,148.8 607.9,149.6 598.2,150.5" stroke="#4e4848" stroke-width="1"/>
<polyline points="614.2,148.8 610.6,156.2 605.1,162.4 595.5,162.4" stroke="#4e4848" stroke-width="1"/>
<polyline points="594.1,170.4 599.6,169.0 605.1,162.4 618.9,171.6 628.6,171.8" stroke="#4e4848" stroke-width="1"/>
<polyline points="621.1,141.4 623.0,152.5 624.4,160.4 629.9,167.6" stroke="#4e4848" stroke-width="1"/>
<polyline points="606.5,130.5 617.5,132.5 625.8,135.4 631.3,135.4" stroke="#4e4848" stroke-width="1"/>
<polyline points="64.8,196.9 66.5,197.5" stroke="#ffffff" stroke-width="1.5"/>
<polyline points="834.1,169.0 831.4,166.1 830.0,160.4 826.7,156.2 830.0,151.9 835.5,149.1 831.4,147.6 825.9,148.5 823.1,146.2 822.3,143.3 825.9,141.9 832.8,138.2 834.7,139.4 831.9,143.3 835.5,141.9 840.5,140.8 842.4,143.3 845.2,146.8 846.6,150.5 846.0,155.3 849.3,155.9 854.0,154.2 854.8,150.5 854.3,147.6 852.1,144.8 849.3,141.1 855.7,137.6 858.1,133.9 861.7,131.4 865.9,132.5 871.4,129.4 878.3,123.4 885.2,117.7" stroke="#ffffff" stroke-width="1.5"/>
<polygon points="829.2,190.4 831.4,182.7 834.1,183.2 830.6,191.8" stroke="#ffffff" stroke-width="1.5"/>
<polygon points="797.4,202.1 803.8,198.4 801.6,196.9 798.3,198.1" stroke="#ffffff" stroke-width="1.5"/>
<polygon points="150.3,41.9 170.2,42.5 175.0,44.9 170.2,45.5 159.3,50.4 153.3,51.0 148.5,47.3" stroke="#ffffff" stroke-width="1.5"/>
<polygon points="171.4,45.5 190.7,47.3 200.4,45.5 216.1,54.6 205.2,57.6 196.7,58.2 185.9,57.6 176.2,55.8 171.4,54.0 170.8,46.1" stroke="#ffffff" stroke-width="1.5"/>
<polyline points="171.4,54.0 183.5,54.0" stroke="#ffffff" stroke-width="1.5"/>
<polyline points="140.0,54.6 152.1,54.9 164.1,56.4 179.8,59.4 188.3,61.0 196.7,62.4 204.0,59.4 212.4,60.6 224.5,61.8 233.0,61.8 236.6,58.8 229.9,54.0 235.4,49.7" stroke="#ffffff" stroke-width="1.5"/>
<polygon points="213.6,47.3 219.7,43.7 225.7,43.7 228.7,48.5 223.3,50.4" stroke="#ffffff" stroke-width="1.5"/>
<polygon points="233.0,43.1 246.2,43.7 235.4,49.7 233.6,46.1" stroke="#ffffff" stroke-width="1.5"/>
<polygon points="222.1,57.0 227.5,55.8 228.1,58.8" stroke="#ffffff" stroke-width="1.5"/>
<polygon points="150.9,64.8 162.9,63.6 166.0,66.7 169.6,67.3 161.7,68.5" stroke="#ffffff" stroke-width="1.5"/>
<polygon points="175.0,74.5 177.4,78.1 173.8,80.5 191.9,75.7 190.7,74.5" stroke="#ffffff" stroke-width="1.5"/>
<polyline points="260.0,43.1 248.7,45.5 246.2,49.1 251.1,53.4 260.0,52.8" stroke="#ffffff" stroke-width="1.5"/>
<polyline points="236.6,50.4 245.0,57.6 253.5,61.2 260.0,58.8" stroke="#ffffff" stroke-width="1.5"/>
<polyline points="260.0,63.6 247.4,66.7 240.2,73.3 245.0,74.5 235.4,80.5 234.2,85.0" stroke="#ffffff" stroke-width="1.5"/>
<polyline points="250.0,44.9 257.2,43.7 259.1,47.3 268.1,44.1 272.9,47.9 275.4,44.1 283.2,44.9 291.7,50.4 301.9,52.8 309.2,55.2 314.0,60.0 325.5,64.2 321.2,67.9 309.2,64.2 317.0,71.5 315.2,73.9 301.9,74.5 291.7,71.5 282.0,70.9 291.7,64.8 290.4,58.8 282.0,55.2 274.7,54.6 262.1,54.0 250.0,52.2" stroke="#ffffff" stroke-width="1.5"/>
<polyline points="250.0,60.0 262.1,56.4 268.1,57.6 269.3,64.8 250.0,67.3" stroke="#ffffff" stroke-width="1.5"/>
<polygon points="258.5,67.3 268.1,69.7 269.9,72.1 258.5,72.1" stroke="#ffffff" stroke-width="1.5"/>
<polyline points="296.5,31.6 306.7,29.2 315.2,26.8 314.0,25.0" stroke="#ffffff" stroke-width="1.5"/>
<polyline points="296.5,31.6 314.0,34.1" stroke="#ffffff" stroke-width="1.5"/>
<polyline points="299.5,35.3 330.9,37.7" stroke="#ffffff" stroke-width="1.5"/>
<polyline points="333.3,37.1 341.8,43.1 344.2,50.4 346.6,54.0 356.2,54.0 349.0,64.8 355.0,73.3 361.1,78.1 370.0,81.7" stroke="#ffffff" stroke-width="1.5"/>
<polyline points="241.7,72.4 245.4,73.6 239.3,76.6 233.9,82.1 236.9,87.5 247.8,92.3 256.2,95.4 264.7,97.2 269.5,102.6 275.5,108.6 280.4,105.6 276.7,99.0 281.6,96.0 282.8,85.7 281.6,77.2 286.4,76.0 293.0,80.9" stroke="#ffffff" stroke-width="1.5"/>
<polyline points="257.4,70.0 258.6,72.4 269.5,71.8 270.7,70.0" stroke="#ffffff" stroke-width="1.5"/>
<polyline points="281.6,70.0 294.9,71.8 299.7,75.4 316.6,74.8 315.4,70.0" stroke="#ffffff" stroke-width="1.5"/>
<polyline points="302.1,82.1 304.5,86.9 311.8,87.5 317.8,83.9 322.6,86.9 326.2,94.1 332.3,97.8 331.1,102.0 337.1,100.2 340.0,101.4" stroke="#ffffff" stroke-width="1.5"/>
<polygon points="221.8,102.0 224.8,99.6 227.2,105.6" stroke="#ffffff" stroke-width="1.5"/>
<polyline points="241.7,120.7 249.0,116.5 256.2,117.1 259.8,120.7 274.3,126.1 270.7,126.7" stroke="#ffffff" stroke-width="1.5"/>
<polyline points="257.4,123.1 259.8,126.7 256.2,130.0" stroke="#ffffff" stroke-width="1.5"/>
<polyline points="262.3,121.3 268.3,124.3" stroke="#ffffff" stroke-width="1.5"/>
<polyline points="280.4,128.6 290.0,126.7 298.5,126.1 304.5,120.7 311.8,111.7 323.8,112.3 328.7,111.0" stroke="#ffffff" stroke-width="1.5"/>
<polyline points="303.3,118.3 311.8,112.3 320.2,111.7 325.0,113.5 321.4,114.7 315.4,117.7 319.0,120.7 326.2,124.3 322.6,126.7 314.2,123.1 304.5,119.5" stroke="#ffffff" stroke-width="1.5"/>
<polyline points="220.0,114.7 232.1,114.1 247.8,118.3" stroke="#4e4848" stroke-width="1"/>
<polyline points="298.5,126.1 305.7,120.1 309.3,123.1" stroke="#4e4848" stroke-width="1"/>
<polyline points="492.8,154.5 494.2,163.0 487.6,164.4 473.5,172.7 473.5,175.6 461.1,175.6" stroke="#4e4848" stroke-width="1"/>
<polyline points="473.5,175.6 473.5,180.7 464.4,180.4 464.4,187.8 461.6,193.8 450.6,193.8" stroke="#4e4848" stroke-width="1"/>
<polyline points="484.2,183.2 479.6,183.2 464.4,180.4" stroke="#4e4848" stroke-width="1"/>
<polyline points="484.2,183.2 500.8,194.7 508.5,199.8 509.1,206.6 500.8,211.8 496.1,211.8 492.0,213.2 482.3,224.9" stroke="#4e4848" stroke-width="1"/>
<polyline points="484.2,183.2 482.3,208.0 465.2,210.6 463.8,212.9 466.3,219.2 459.7,218.9 451.4,219.2" stroke="#4e4848" stroke-width="1"/>
<polyline points="520.4,149.3 519.6,160.4 523.7,168.4 525.1,182.4 530.6,187.5 508.5,199.8" stroke="#4e4848" stroke-width="1"/>
<polyline points="566.5,164.4 566.5,191.8 599.3,191.8" stroke="#4e4848" stroke-width="1"/>
<polyline points="566.5,191.8 563.7,198.9 558.2,211.8 561.0,223.2 559.6,224.6" stroke="#4e4848" stroke-width="1"/>
<polyline points="530.6,187.5 536.1,190.1 540.3,188.9 563.7,198.9" stroke="#4e4848" stroke-width="1"/>
<polyline points="540.3,188.9 540.3,195.5 535.0,214.6 536.4,217.4" stroke="#4e4848" stroke-width="1"/>
<polyline points="507.4,221.2 516.8,217.4 525.1,216.0 535.0,214.6" stroke="#4e4848" stroke-width="1"/>
<polyline points="489.8,223.2 500.0,223.2 504.1,220.6 507.4,221.2 504.9,236.3" stroke="#4e4848" stroke-width="1"/>
<polyline points="497.5,223.2 500.8,237.1" stroke="#4e4848" stroke-width="1"/>
<polyline points="537.5,220.3 540.3,233.1 547.2,231.7 559.6,224.6 563.7,230.3 573.4,240.2 583.0,243.7 591.3,241.7 596.6,241.4" stroke="#4e4848" stroke-width="1"/>
<polyline points="598.2,213.7 596.8,218.9 594.1,226.0 591.3,230.3 588.6,232.0 596.6,241.4 607.9,243.1 613.1,243.4 620.3,240.5 629.7,231.7 618.9,228.8 616.1,223.2" stroke="#4e4848" stroke-width="1"/>
<polyline points="591.3,241.7 592.7,251.7 591.3,257.4 601.2,263.1 605.7,267.9" stroke="#4e4848" stroke-width="1"/>
<polyline points="578.9,258.5 581.7,257.4 591.3,257.4" stroke="#4e4848" stroke-width="1"/>
<polyline points="524.3,248.2 528.7,248.2 541.6,248.8 548.5,244.5 548.8,242.5" stroke="#4e4848" stroke-width="1"/>
<polyline points="541.6,248.8 545.8,257.4 543.0,267.3 531.2,271.0" stroke="#4e4848" stroke-width="1"/>
<polyline points="531.2,271.6 543.0,271.6 545.8,277.3 558.2,277.3 558.2,291.6 563.7,291.6 563.7,304.4 555.4,305.8 530.6,303.8" stroke="#4e4848" stroke-width="1"/>
<polyline points="578.9,258.5 578.1,267.3 578.6,274.4 581.7,278.2 576.1,278.7 577.5,292.1 563.7,288.7" stroke="#4e4848" stroke-width="1"/>
<polyline points="581.7,278.2 588.6,281.6 594.1,287.3 609.2,284.4" stroke="#4e4848" stroke-width="1"/>
<polyline points="588.6,281.6 588.6,294.4 581.7,298.7 574.8,302.9 567.3,305.2 572.0,311.5 578.6,317.8 584.4,318.1 585.8,330.0" stroke="#4e4848" stroke-width="1"/>
<polyline points="552.7,317.2 552.7,324.9 552.7,335.7 543.0,335.7" stroke="#4e4848" stroke-width="1"/>
<polyline points="552.7,324.9 567.9,327.2 578.6,317.8" stroke="#4e4848" stroke-width="1"/>
<polyline points="581.7,298.7 588.6,302.9 587.2,314.4 584.4,318.1" stroke="#4e4848" stroke-width="1"/>
<polyline points="472.7,218.9 475.4,226.0 469.9,230.3 465.8,234.6 460.8,228.8" stroke="#4e4848" stroke-width="1"/>
<polyline points="475.4,226.0 482.3,224.9 489.8,227.4 489.2,240.0" stroke="#4e4848" stroke-width="1"/>
<polyline points="474.0,233.1 476.8,242.0" stroke="#4e4848" stroke-width="1"/>
<polyline points="520.9,240.8 529.2,236.0 534.7,226.0 537.5,218.9" stroke="#4e4848" stroke-width="1"/>
<polyline points="537.5,220.3 538.9,226.0 537.5,237.4 541.6,248.8" stroke="#4e4848" stroke-width="1"/>
<polyline points="466.3,219.2 472.7,218.9" stroke="#4e4848" stroke-width="1"/>
<polyline points="158.2,150.0 165.7,156.4 173.3,162.9 177.5,167.2 182.9,175.7 188.3,184.3 191.5,189.7 186.1,180.0 180.8,171.5 178.2,165.0 179.7,163.3" stroke="#ffffff" stroke-width="1.5"/>
<polyline points="179.7,163.3 189.3,171.5 195.8,180.0 202.2,188.6 204.4,196.1 210.8,201.5 219.4,206.9 230.1,210.1 240.8,212.2 251.6,217.6 258.0,224.0 263.4,226.2 268.7,229.4 277.3,230.5 282.7,233.7 281.6,244.4 277.3,253.0 274.1,260.1" stroke="#ffffff" stroke-width="1.5"/>
<polyline points="285.9,150.0 275.2,156.4 273.0,162.9 274.1,177.9 271.9,182.2 268.7,173.6 266.6,169.3 258.0,168.9 247.3,168.9 236.5,170.4 230.1,172.5 226.9,177.9 225.8,186.5 228.0,195.1 232.3,201.5 238.7,202.6 245.1,198.3 248.3,194.0 252.6,194.0 253.7,201.5 250.5,209.0 256.9,212.2 264.4,214.4 262.3,220.8 266.6,226.2 274.1,229.4 281.6,230.5 290.2,224.0 298.8,222.9 303.1,226.2 311.6,222.9 320.0,226.2" stroke="#ffffff" stroke-width="1.5"/>
<polygon points="262.3,191.8 268.7,188.6 277.3,190.8 285.9,195.1 288.0,198.3 279.5,197.2 270.9,194.0 263.4,192.9" stroke="#ffffff" stroke-width="1.5"/>
<polygon points="292.3,201.5 298.8,198.9 303.1,200.4 302.0,203.2 294.5,203.2" stroke="#ffffff" stroke-width="1.5"/>
<polyline points="174.3,160.7 200.1,165.0" stroke="#4e4848" stroke-width="1"/>
<polyline points="203.3,166.1 210.8,171.5 221.5,179.0 226.9,181.1" stroke="#4e4848" stroke-width="1"/>
<polyline points="243.0,206.9 249.4,203.6 251.6,199.3" stroke="#4e4848" stroke-width="1"/>
<polyline points="256.9,212.2 251.6,214.4 260.1,220.8" stroke="#4e4848" stroke-width="1"/>
<polyline points="629.2,111.2 640.2,106.2 664.4,110.2 666.4,104.1 684.5,98.1 694.6,96.5 720.7,109.2 744.9,114.2 752.9,111.2 771.0,112.2 777.1,107.2 800.0,112.2" stroke="#4e4848" stroke-width="1"/>
<polyline points="744.9,114.2 754.9,124.3 767.0,131.3 781.1,134.3 800.0,132.3" stroke="#4e4848" stroke-width="1"/>
<polyline points="744.9,114.2 738.8,117.2 720.7,127.3 720.7,133.3 695.6,134.3 684.5,135.3 680.5,131.3 666.4,130.3 654.3,134.3 654.3,126.3" stroke="#4e4848" stroke-width="1"/>
<polyline points="629.2,111.2 634.2,120.2" stroke="#4e4848" stroke-width="1"/>
<polyline points="600.0,110.2 608.0,114.2 606.0,120.2 612.1,132.3 620.1,138.4 626.2,134.3" stroke="#4e4848" stroke-width="1"/>
<polyline points="620.1,138.4 638.2,148.4 652.3,146.4 666.4,149.4 680.5,147.4 688.5,142.4 700.6,141.4 695.6,134.3" stroke="#4e4848" stroke-width="1"/>
<polyline points="600.0,150.4 612.1,146.4 620.1,138.4" stroke="#4e4848" stroke-width="1"/>
<polyline points="626.2,134.3 648.3,140.4 662.4,147.4 670.4,152.4 672.4,168.5" stroke="#4e4848" stroke-width="1"/>
<polyline points="688.5,142.4 694.6,146.4 704.6,146.4 708.7,149.4 720.7,156.5 712.7,160.5 704.6,164.5 698.6,174.6 704.6,180.0" stroke="#4e4848" stroke-width="1"/>
<polyline points="612.1,146.4 622.1,142.4 626.2,152.4 630.2,168.5" stroke="#4e4848" stroke-width="1"/>
<polyline points="720.7,156.5 730.8,166.5 744.9,170.5 761.0,172.6 769.0,176.6" stroke="#4e4848" stroke-width="1"/>
<polyline points="686.5,186.7 693.4,184.7 692.0,179.0 696.2,173.3 703.1,167.6 703.1,161.9 701.7,156.2 710.0,153.3" stroke="#4e4848" stroke-width="1"/>
<polyline points="710.0,153.3 714.1,157.6 715.5,161.9 714.1,166.1 719.6,169.0 723.8,173.3 732.0,176.7 740.3,179.0 740.9,175.3 743.1,176.7 751.4,175.3 761.0,171.0 765.2,174.7" stroke="#4e4848" stroke-width="1"/>
<polyline points="719.6,169.0 721.0,173.3 729.3,176.7 740.3,179.0" stroke="#4e4848" stroke-width="1"/>
<polyline points="741.7,179.0 743.1,183.2 741.7,188.9 743.1,191.8" stroke="#4e4848" stroke-width="1"/>
<polyline points="745.3,180.4 751.4,183.2 752.2,187.5 752.7,194.7" stroke="#4e4848" stroke-width="1"/>
<polyline points="765.2,174.7 759.6,179.0 756.9,186.1 755.5,191.8 752.7,194.7" stroke="#4e4848" stroke-width="1"/>
<polyline points="765.2,174.7 769.3,183.2 770.7,190.4 776.2,193.2 773.4,197.5 767.9,201.8 769.3,208.9 770.7,223.2" stroke="#4e4848" stroke-width="1"/>
<polyline points="776.2,193.2 780.3,190.4 787.2,188.9 795.5,193.2" stroke="#4e4848" stroke-width="1"/>
<polyline points="780.3,190.4 784.5,196.1 787.2,203.2 792.7,207.5 794.1,213.2 790.0,217.4" stroke="#4e4848" stroke-width="1"/>
<polyline points="773.4,197.5 776.2,204.6 785.8,208.9 788.6,213.2 781.7,214.6 780.3,218.9" stroke="#4e4848" stroke-width="1"/>
<polyline points="794.1,213.2 790.0,223.2 785.8,224.6" stroke="#4e4848" stroke-width="1"/>
<polyline points="667.5,182.7 672.2,177.0 670.8,173.8 665.5,169.6" stroke="#4e4848" stroke-width="1"/>
<polyline points="840.5,140.8 846.6,136.2 853.5,133.9 858.1,133.9" stroke="#4e4848" stroke-width="1"/>
<polyline points="858.1,133.1 859.5,127.7 864.5,126.2 869.2,117.7 859.0,118.6 849.3,112.9 843.8,103.4 828.6,102.6 821.7,113.4 817.6,112.0" stroke="#4e4848" stroke-width="1"/>
<polyline points="943.4,255.4 944.4,269.4 969.1,269.8 969.5,255.4" stroke="#4e4848" stroke-width="1"/>
<polyline points="929.4,290.8 936.9,291.9 975.5,293.0 982.0,302.6 982.4,315.5 971.3,314.8 956.2,305.8" stroke="#4e4848" stroke-width="1"/>
<polyline points="938.6,291.9 938.0,314.4 945.5,323.0 994.0,323.0" stroke="#4e4848" stroke-width="1"/>
<polyline points="930.5,272.6 944.4,269.8" stroke="#4e4848" stroke-width="1"/>
<polyline points="929.4,275.8 930.5,290.8" stroke="#4e4848" stroke-width="1"/>
<polyline points="975.5,287.6 994.0,287.6" stroke="#4e4848" stroke-width="1"/>
<polyline points="970.2,254.3 980.9,245.3 994.0,244.7" stroke="#4e4848" stroke-width="1"/>
<polygon points="863.3,258.0 870.1,257.6 874.1,263.7 880.6,261.7 888.6,262.1 898.3,266.1 906.3,271.7 909.6,276.6 911.2,280.6 916.0,283.8 914.4,285.4 910.4,283.8 906.3,279.8 899.9,277.8 895.9,281.4 891.9,282.2 887.8,278.2 882.2,272.5 876.6,268.5 870.1,265.7 865.3,261.7" stroke="#ffffff" stroke-width="1.5"/>
<polyline points="918.4,263.7 924.0,266.9 919.2,271.7 912.8,272.5 912.0,271.3 918.4,270.1 920.8,267.3" stroke="#ffffff" stroke-width="1.5"/>
<polyline points="890.6,254.8 890.6,281.4" stroke="#4e4848" stroke-width="1"/>
<polyline points="890.6,254.8 930.0,254.8" stroke="#4e4848" stroke-width="1"/>
<polyline points="895.1,254.0 907.9,250.0" stroke="#4e4848" stroke-width="1"/>
<polyline points="854.4,266.1 860.5,264.5" stroke="#ffffff" stroke-width="1.5"/>
<polygon points="297.1,30.4 315.2,27.9 316.4,25.5 329.7,21.4 353.8,19.5 363.5,18.3 382.8,15.9 406.9,15.9 431.1,19.5 460.0,20.7 443.1,24.3 446.8,27.9 441.9,31.6 445.6,36.4 440.7,42.4 433.5,43.6 435.9,48.5 429.9,50.9 433.5,53.3 421.4,52.1 426.2,55.7 406.9,59.3 390.0,66.6 384.0,70.2 374.3,83.5 363.5,79.8 353.8,72.6 349.0,64.2 356.2,54.5 345.4,52.1 341.7,42.4 334.5,37.6 324.8,36.4 303.1,35.2 298.3,32.8" stroke="#ffffff" stroke-width="1.5"/>
<polyline points="0.0,255.5 32.7,255.5 40.9,265.0 51.8,265.0 51.8,241.8 60.0,248.6 73.6,248.6 81.8,265.0 84.5,274.5 81.8,289.5 62.7,290.9 62.7,278.6 10.9,278.6 10.9,290.9 0.0,290.9" stroke="#4e4848" stroke-width="1"/>
<polyline points="32.7,265.0 32.7,304.5 21.8,304.5 16.4,284.1 10.9,284.1" stroke="#4e4848" stroke-width="1"/>
<polyline points="62.7,278.6 62.7,312.7 50.4,323.6 0.0,323.6" stroke="#4e4848" stroke-width="1"/>
<polyline points="21.8,304.5 23.2,322.3" stroke="#4e4848" stroke-width="1"/>
<polyline points="0.0,322.3 5.5,299.1 0.0,299.1" stroke="#4e4848" stroke-width="1"/>
<polyline points="62.7,271.8 73.6,266.4 81.8,265.0" stroke="#4e4848" stroke-width="1"/>
<polyline points="84.5,273.2 117.3,275.9 132.3,285.4 132.3,329.1 152.7,330.4 141.8,318.2 132.3,318.2" stroke="#4e4848" stroke-width="1"/>
<polyline points="64.1,323.6 84.5,337.3 109.1,338.6 132.3,329.1" stroke="#4e4848" stroke-width="1"/>
<polyline points="0.0,266.4 2.7,255.5" stroke="#4e4848" stroke-width="1"/></svg>
<svg width="994" height="513" style="position:absolute;left:0;top:0" shape-rendering="crispEdges"><line x1="83.5" y1="64" x2="83.5" y2="447" stroke="#ffff00" stroke-width="1" stroke-dasharray="1 1"/><line x1="166.5" y1="64" x2="166.5" y2="447" stroke="#ffff00" stroke-width="1" stroke-dasharray="1 1"/><line x1="248.5" y1="64" x2="248.5" y2="447" stroke="#ffff00" stroke-width="1" stroke-dasharray="1 1"/><line x1="331.5" y1="64" x2="331.5" y2="447" stroke="#ffff00" stroke-width="1" stroke-dasharray="1 1"/><line x1="414.5" y1="64" x2="414.5" y2="447" stroke="#ffff00" stroke-width="1" stroke-dasharray="1 1"/><line x1="497.5" y1="64" x2="497.5" y2="447" stroke="#ffff00" stroke-width="1" stroke-dasharray="1 1"/><line x1="580.5" y1="64" x2="580.5" y2="447" stroke="#ffff00" stroke-width="1" stroke-dasharray="1 1"/><line x1="663.5" y1="64" x2="663.5" y2="447" stroke="#ffff00" stroke-width="1" stroke-dasharray="1 1"/><line x1="746.5" y1="64" x2="746.5" y2="447" stroke="#ffff00" stroke-width="1" stroke-dasharray="1 1"/><line x1="828.5" y1="64" x2="828.5" y2="447" stroke="#ffff00" stroke-width="1" stroke-dasharray="1 1"/><line x1="911.5" y1="64" x2="911.5" y2="447" stroke="#ffff00" stroke-width="1" stroke-dasharray="1 1"/><line x1="0" y1="84.5" x2="994" y2="84.5" stroke="#ffff00" stroke-width="1" stroke-dasharray="1 1"/><line x1="0" y1="169.5" x2="994" y2="169.5" stroke="#ffff00" stroke-width="1" stroke-dasharray="1 1"/><line x1="0" y1="254.5" x2="994" y2="254.5" stroke="#ffff00" stroke-width="1" stroke-dasharray="1 1"/><line x1="0" y1="340.5" x2="994" y2="340.5" stroke="#ffff00" stroke-width="1" stroke-dasharray="1 1"/><line x1="0" y1="426.5" x2="994" y2="426.5" stroke="#ffff00" stroke-width="1" stroke-dasharray="1 1"/></svg>
<div class="lb" style="left:0;top:68px;width:29px;height:16px"><span style="left:4px;top:1px">60N</span></div><div class="lb" style="left:0;top:153px;width:29px;height:16px"><span style="left:4px;top:1px">30N</span></div><div class="lb" style="left:0;top:238px;width:20px;height:16px"><span style="left:4px;top:1px">00</span></div><div class="lb" style="left:0;top:324px;width:29px;height:16px"><span style="left:4px;top:1px">30S</span></div><div class="lb" style="left:0;top:410px;width:29px;height:16px"><span style="left:4px;top:1px">60S</span></div><div class="ll" style="left:86px;top:427px">150W</div><div class="ll" style="left:169px;top:427px">120W</div><div class="ll" style="left:251px;top:427px">90W</div><div class="ll" style="left:334px;top:427px">60W</div><div class="ll" style="left:417px;top:427px">30W</div><div class="ll" style="left:500px;top:427px">00</div><div class="ll" style="left:583px;top:427px">30E</div><div class="ll" style="left:666px;top:427px">60E</div><div class="ll" style="left:749px;top:427px">90E</div><div class="ll" style="left:831px;top:427px">120E</div><div class="ll" style="left:914px;top:427px">150E</div>

<div class="t" style="left:13px;top:10px;color:#ffd700">Date : Wednesday, October 22, 2025</div>
<div class="t" style="left:639px;top:10px;color:#ffd700;letter-spacing:-0.07px">Crescent Moon Visibility : Jumada I&nbsp; 1447</div>
<div class="t" style="left:13px;top:451px;color:#ffd700;letter-spacing:0.04px">New Moon : Tuesday, October 21, 2025&nbsp; 12:25:03&nbsp; UT</div>
<div class="t" style="left:13px;top:470px;color:#008c00;letter-spacing:-0.1px">A: Easily visible with naked eye</div>
<div class="t" style="left:270px;top:470px;color:#00c8d2;letter-spacing:-0.08px">B: Visible if perfect conditions</div>
<div class="t" style="left:517px;top:470px;color:#8c8c8c;letter-spacing:-0.18px">C: Optical Aid to find moon</div>
<div class="t" style="left:739px;top:470px;color:#ff0000;letter-spacing:-0.1px">D: Visible with optical aid only</div>
<div class="t" style="left:13px;top:490px;color:#ffffff;letter-spacing:-0.03px">Criterion: Syed Khalid Shaukat</div>
<div class="t" style="left:579px;top:490px;color:#ffffff;letter-spacing:-0.06px">OmegaHilalSighting&nbsp; (c)&nbsp; Developed by Fawzi Kayali</div>

</body></html>
